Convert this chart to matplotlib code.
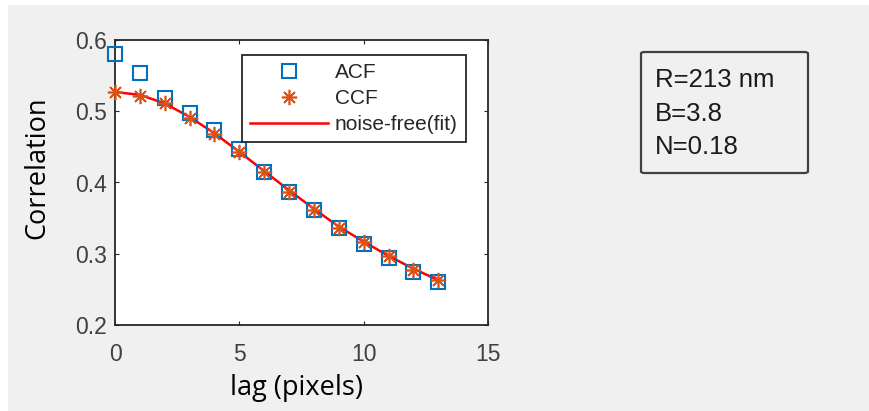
import matplotlib
matplotlib.use("Agg")
import matplotlib.pyplot as plt
from matplotlib.patches import Rectangle, FancyBboxPatch
from matplotlib.lines import Line2D

lags = list(range(14))
acf = [0.581, 0.553, 0.518, 0.498, 0.473, 0.447, 0.415, 0.386, 0.361, 0.336, 0.314, 0.294, 0.275, 0.261]
ccf = [0.527, 0.522, 0.511, 0.491, 0.468, 0.443, 0.415, 0.387, 0.361, 0.336, 0.317, 0.297, 0.277, 0.263]
fit = [0.527, 0.523, 0.511, 0.492, 0.469, 0.443, 0.416, 0.389, 0.363, 0.338, 0.317, 0.297, 0.279, 0.263]
xticks = [0, 5, 10, 15]
yticks = [0.2, 0.3, 0.4, 0.5, 0.6]
info_lines = ["R=213 nm", "B=3.8", "N=0.18"]

W, H = 869, 411
fig = plt.figure(figsize=(W / 100, H / 100), dpi=100)
fig.patch.set_facecolor("white")
fig.patches.append(Rectangle((8 / W, 0), 1 - 8 / W, 1 - 5 / H, transform=fig.transFigure,
                             facecolor="#f0f0f0", edgecolor="none", zorder=-5))

ax = fig.add_axes([115 / W, 1 - 325 / H, (488 - 115) / W, (325 - 40) / H])
ax.set_facecolor("white")
ax.plot(lags, fit, color="#ff0000", lw=1.8, zorder=2, label="noise-free(fit)")
ax.plot(lags, acf, ls="none", marker="s", ms=9.5, mfc="none", mec="#0072BD", mew=1.5,
        zorder=3, clip_on=False, label="ACF")
ax.plot(lags, ccf, ls="none", marker=(8, 2, 0), ms=11, mec="#D95319", mew=1.2,
        zorder=4, clip_on=False, label="CCF")

ax.set_xlim(0, 15)
ax.set_ylim(0.2, 0.6)
ax.set_xticks(xticks)
ax.set_xticklabels([str(v) for v in xticks])
ax.set_yticks(yticks)
ax.set_yticklabels(["%.1f" % v for v in yticks])
ax.tick_params(direction="in", length=3, width=0.8, top=True, right=True,
               labelsize=16.5, labelcolor="#404040", color="#262626")
ax.tick_params(axis="y", pad=6)
ax.tick_params(axis="x", pad=13)
for lab in ax.get_xticklabels() + ax.get_yticklabels():
    lab.set_family("Liberation Sans")
for s in ax.spines.values():
    s.set_color("#262626")
    s.set_linewidth(1.3)

fig.text(37 / W, 1 - 168 / H, "Correlation", rotation=90, ha="center", va="center",
         fontsize=19.5, family="Open Sans", color="black")
fig.text(297 / W, 1 - 388 / H, "lag (pixels)", ha="center", va="center",
         fontsize=19.5, family="Open Sans", color="black")

handles = [
    Line2D([], [], ls="none", marker="s", ms=9.5, mfc="none", mec="#0072BD", mew=1.5),
    Line2D([], [], ls="none", marker=(8, 2, 0), ms=11, mec="#D95319", mew=1.2),
    Line2D([], [], color="#ff0000", lw=1.8),
]
leg = ax.legend(handles, ["ACF", "CCF", "noise-free(fit)"], loc="upper left",
                bbox_to_anchor=(242 / W, 1 - 55 / H), bbox_transform=fig.transFigure,
                prop={"family": "Liberation Sans", "size": 15},
                handlelength=3.75, handletextpad=0.3, labelspacing=0.33,
                borderpad=0.4, borderaxespad=0, fancybox=False, framealpha=1,
                edgecolor="#262626")
leg.get_frame().set_linewidth(1.3)
for t in leg.get_texts():
    t.set_color("#262626")

fig.patches.append(FancyBboxPatch((641 / W, 1 - 173 / H), (808 - 641) / W, (173 - 52) / H,
                                  boxstyle="round,pad=0,rounding_size=0.004", transform=fig.transFigure,
                                  facecolor="#f0f0f0", edgecolor="#404040", lw=1.6, zorder=1))
for i, line in enumerate(info_lines):
    fig.text(655 / W, 1 - (80 + 33.5 * i) / H, line, ha="left", va="center",
             fontsize=18.5, family="Liberation Sans", color="#1a1a1a")

fig.savefig("out.png", dpi=100, facecolor=fig.get_facecolor())
